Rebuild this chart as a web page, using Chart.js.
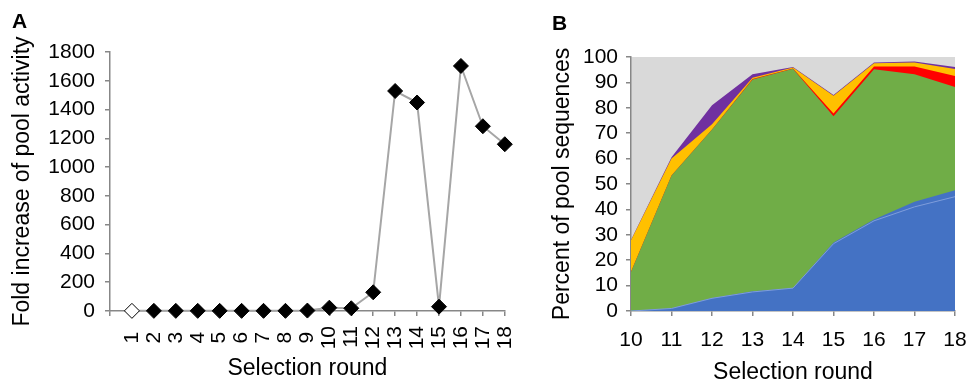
<!DOCTYPE html>
<html>
<head>
<meta charset="utf-8">
<script src="https://cdn.jsdelivr.net/npm/chart.js@4"></script>
<style>
  body { margin: 0; background: #fff; }
  #wrap { position: relative; width: 969px; height: 379px; overflow: hidden; }
  canvas { position: absolute; top: 0; }
  .tag { position: absolute; font: bold 21px "Liberation Sans", Arial, sans-serif; line-height: 1; }
</style>
</head>
<body>
<div id="wrap">
  <canvas id="chartA" width="540" height="379" style="left:0"></canvas>
  <canvas id="chartB" width="429" height="379" style="left:540px"></canvas>
  <div class="tag" style="left:12px;top:10px">A</div>
  <div class="tag" style="left:552px;top:12px">B</div>
</div>
<script>
// panel A: fold increase per round
const roundsA = [1, 2, 3, 4, 5, 6, 7, 8, 9, 10, 11, 12, 13, 14, 15, 16, 17, 18];
const foldIncrease = [1, 1, 1, 1, 1, 1, 1, 1, 3, 23, 19, 130, 1529, 1449, 30, 1703, 1284, 1159];

// panel B: percent of pool sequences (stacked layers, bottom to top)
const roundsB = ['10', '11', '12', '13', '14', '15', '16', '17', '18'];
const blueMain = [0, 1, 5, 7.5, 9, 26.5, 35.5, 41, 45];
const blueMinor = [0, 0, 0, 0.3, 0, 0.5, 0.5, 2, 2.5];
const green = [15.5, 52.3, 66.5, 83.3, 86.4, 49.7, 59.2, 50.2, 40.7];
const red = [0, 0, 0, 0.2, 0.1, 1.1, 1.1, 3.1, 4.3];
const yellow = [12.4, 6.7, 2, 0.5, 0.4, 6.9, 1.2, 1.5, 2.8];
const purple = [0.1, 0.5, 7.5, 1.4, 0.2, 0.3, 0.3, 0.4, 0.8];

Chart.defaults.font.family = '"Liberation Sans", Arial, sans-serif';
Chart.defaults.color = '#000';

const axisGrey = '#878787';
const tickFont = { size: 21 };
const titleFont = { size: 23 };

const plotBackground = {
  id: 'plotBackground',
  beforeDraw(chart, args, opts) {
    if (!opts.color) return;
    const { ctx, chartArea: a } = chart;
    ctx.save();
    ctx.fillStyle = opts.color;
    ctx.fillRect(a.left, a.top, a.right - a.left, a.bottom - a.top);
    ctx.restore();
  }
};

function axisStyle() {
  return {
    border: { color: axisGrey, width: 1.5 },
    grid: { drawOnChartArea: false, tickLength: 5, color: axisGrey, lineWidth: 1.5 }
  };
}

new Chart(document.getElementById('chartA'), {
  type: 'line',
  data: {
    datasets: [{
      data: roundsA.map((r, i) => ({ x: r, y: foldIncrease[i] })),
      borderColor: '#a6a6a6',
      borderWidth: 2,
      tension: 0,
      pointStyle: 'rectRot',
      pointRadius: 7.5,
      pointBackgroundColor: roundsA.map(r => r === 1 ? '#fff' : '#000'),
      pointBorderColor: '#000',
      pointBorderWidth: 1,
      clip: false
    }]
  },
  options: {
    responsive: false,
    animation: false,
    devicePixelRatio: 1,
    layout: { padding: { left: 5, top: 52, right: 34, bottom: 0 } },
    plugins: { legend: { display: false }, tooltip: { enabled: false } },
    scales: {
      x: {
        type: 'linear', min: 0, max: 18,
        afterFit: s => { s.height = 68; },
        ...axisStyle(),
        ticks: {
          stepSize: 1, autoSkip: false, maxRotation: 90, minRotation: 90, padding: 10, font: tickFont,
          // trailing space keeps single digits centred like the double digits
          callback: v => v === 0 ? '' : (v < 10 ? v + ' ' : String(v))
        },
        title: { display: true, text: 'Selection round', font: titleFont, padding: { top: 0, bottom: -3.5 } }
      },
      y: {
        min: 0, max: 1800,
        afterFit: s => { s.width = 105; },
        ...axisStyle(),
        ticks: { stepSize: 200, autoSkip: false, padding: 10, font: tickFont, callback: v => String(v) },
        title: { display: true, text: 'Fold increase of pool activity', font: titleFont, padding: { top: 4, bottom: 0 } }
      }
    }
  }
});

function layer(values, color, border) {
  return {
    data: values,
    backgroundColor: color,
    borderColor: border || 'rgba(0,0,0,0)',
    borderWidth: 1,
    fill: 'origin',
    tension: 0,
    pointRadius: 0
  };
}

new Chart(document.getElementById('chartB'), {
  type: 'line',
  data: {
    labels: roundsB,
    datasets: [
      layer(blueMain, '#4472c4', '#7f9ddb'),
      layer(blueMinor, '#4472c4'),
      layer(green, '#70ad47'),
      layer(red, '#ff0000'),
      layer(yellow, '#ffc000'),
      layer(purple, '#7030a0')
    ]
  },
  options: {
    responsive: false,
    animation: false,
    devicePixelRatio: 1,
    layout: { padding: { left: 5, top: 57, right: 14, bottom: 0 } },
    plugins: { legend: { display: false }, tooltip: { enabled: false }, plotBackground: { color: '#d9d9d9' } },
    scales: {
      x: {
        // keep the label padding from shrinking the plot on the right
        afterFit: s => { s.height = 68; s.paddingRight = 10; },
        ...axisStyle(),
        ticks: { autoSkip: false, maxRotation: 0, padding: 12, font: tickFont },
        title: { display: true, text: 'Selection round', font: titleFont, padding: { top: 0, bottom: -7 } }
      },
      y: {
        stacked: true, min: 0, max: 100,
        afterFit: s => { s.width = 86; },
        ...axisStyle(),
        ticks: { stepSize: 10, autoSkip: false, padding: 8, font: tickFont },
        title: { display: true, text: 'Percent of pool sequences', font: titleFont, padding: { top: 4, bottom: 0 } }
      }
    }
  },
  plugins: [plotBackground]
});
</script>
</body>
</html>
